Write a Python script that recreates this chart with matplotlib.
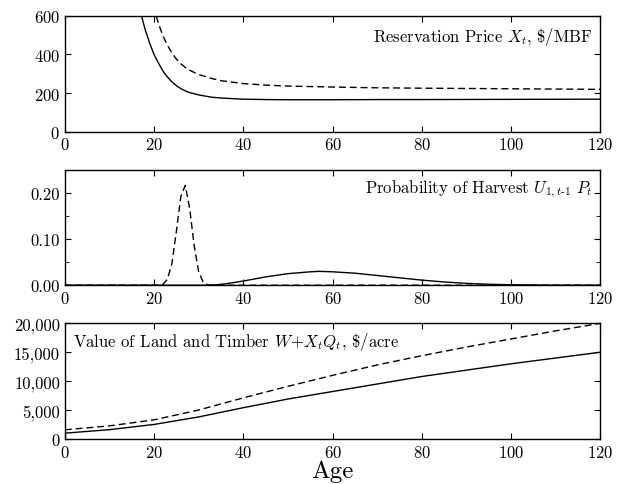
import matplotlib
matplotlib.use("Agg")
import matplotlib.pyplot as plt
from matplotlib.ticker import FuncFormatter, MultipleLocator

plt.rcParams["font.family"] = "serif"
plt.rcParams["font.serif"] = ["cmr10"]
plt.rcParams["mathtext.fontset"] = "cm"
plt.rcParams["axes.formatter.use_mathtext"] = True

# Reservation price, $/MBF
price_age_solid = [17.2, 18, 19, 20, 21, 22, 23, 24, 25, 26, 27, 28, 30, 33, 35, 40, 45, 50, 60, 70, 80, 100, 120]
price_solid = [600, 530, 460, 400, 355, 314, 283, 258, 238, 223, 211, 202, 190, 178, 174, 168, 166, 165,
               165, 166, 166, 167, 168]
price_age_dash = [20.5, 21, 22, 23, 24, 25, 26, 27, 28, 30, 33, 35, 40, 45, 50, 60, 70, 80, 100, 120]
price_dash = [600, 560, 496, 448, 408, 376, 352, 333, 318, 296, 275, 264, 249, 241, 236, 231, 227, 225, 222, 219]

# Probability of harvest
prob_age = [0, 20, 21, 22, 23, 24, 25, 26, 27, 28, 29, 30, 31, 32, 33, 120]
prob_dash = [0, 0, 0, 0.002, 0.013, 0.047, 0.116, 0.192, 0.216, 0.165, 0.085, 0.029, 0.007, 0.001, 0, 0]
prob_age_solid = [0, 32, 34, 36, 38, 40, 45, 50, 55, 57, 60, 65, 70, 75, 80, 85, 90, 95, 100, 110, 120]
prob_solid = [0, 0, 0.001, 0.003, 0.006, 0.009, 0.018, 0.025, 0.029, 0.030, 0.029, 0.026, 0.021,
              0.016, 0.011, 0.007, 0.004, 0.002, 0.001, 0, 0]

# Value of land and timber, $/acre
value_age = [0, 10, 20, 30, 40, 50, 60, 70, 80, 90, 100, 110, 120]
value_solid = [990, 1600, 2500, 3800, 5400, 6900, 8200, 9500, 10800, 11900, 13000, 14000, 15000]
value_dash = [1570, 2250, 3300, 5000, 7100, 9100, 11000, 12800, 14400, 15900, 17300, 18700, 20000]

fig, axes = plt.subplots(3, 1, figsize=(6.17, 4.85), dpi=100)
fig.subplots_adjust(left=0.105, right=0.973, top=0.965, bottom=0.093, hspace=0.33)

dash = (0, (5, 2.8))
lw = 1.0

ax1, ax2, ax3 = axes
ax1.plot(price_age_solid, price_solid, color="black", lw=lw)
ax1.plot(price_age_dash, price_dash, color="black", lw=lw, linestyle=dash)
ax1.set_ylim(0, 600)
ax1.set_yticks([0, 200, 400, 600])
ax1.text(0.985, 0.83, r"Reservation Price $X_t$, \$/MBF", transform=ax1.transAxes,
         ha="right", va="center", fontsize=12)

ax2.plot(prob_age, prob_dash, color="black", lw=lw, linestyle=dash)
ax2.plot(prob_age_solid, prob_solid, color="black", lw=lw)
ax2.set_ylim(0, 0.25)
ax2.set_yticks([0, 0.1, 0.2])
ax2.yaxis.set_minor_locator(MultipleLocator(0.05))
ax2.yaxis.set_major_formatter(FuncFormatter(lambda v, p: f"{v:.2f}"))
ax2.text(0.985, 0.84, r"Probability of Harvest $U_{\mathit{1,t}\text{-}\mathit{1}}\ P_t$",
         transform=ax2.transAxes, ha="right", va="center", fontsize=12)

ax3.plot(value_age, value_solid, color="black", lw=lw)
ax3.plot(value_age, value_dash, color="black", lw=lw, linestyle=dash)
ax3.set_ylim(0, 20000)
ax3.set_yticks([0, 5000, 10000, 15000, 20000])
ax3.yaxis.set_major_formatter(FuncFormatter(lambda v, p: f"{int(v):,}"))
ax3.text(0.015, 0.85, r"Value of Land and Timber $W\!+\!X_tQ_t$, \$/acre",
         transform=ax3.transAxes, ha="left", va="center", fontsize=12)
ax3.set_xlabel("Age", fontsize=18, labelpad=0)

for ax in axes:
    ax.set_xlim(0, 120)
    ax.set_xticks([0, 20, 40, 60, 80, 100, 120])
    ax.tick_params(which="both", direction="in", top=True, right=True, labelsize=12)
    ax.tick_params(which="major", length=4)
    ax.tick_params(which="minor", length=3)
    for s in ax.spines.values():
        s.set_linewidth(1.0)

fig.savefig("out.png", dpi=100)
